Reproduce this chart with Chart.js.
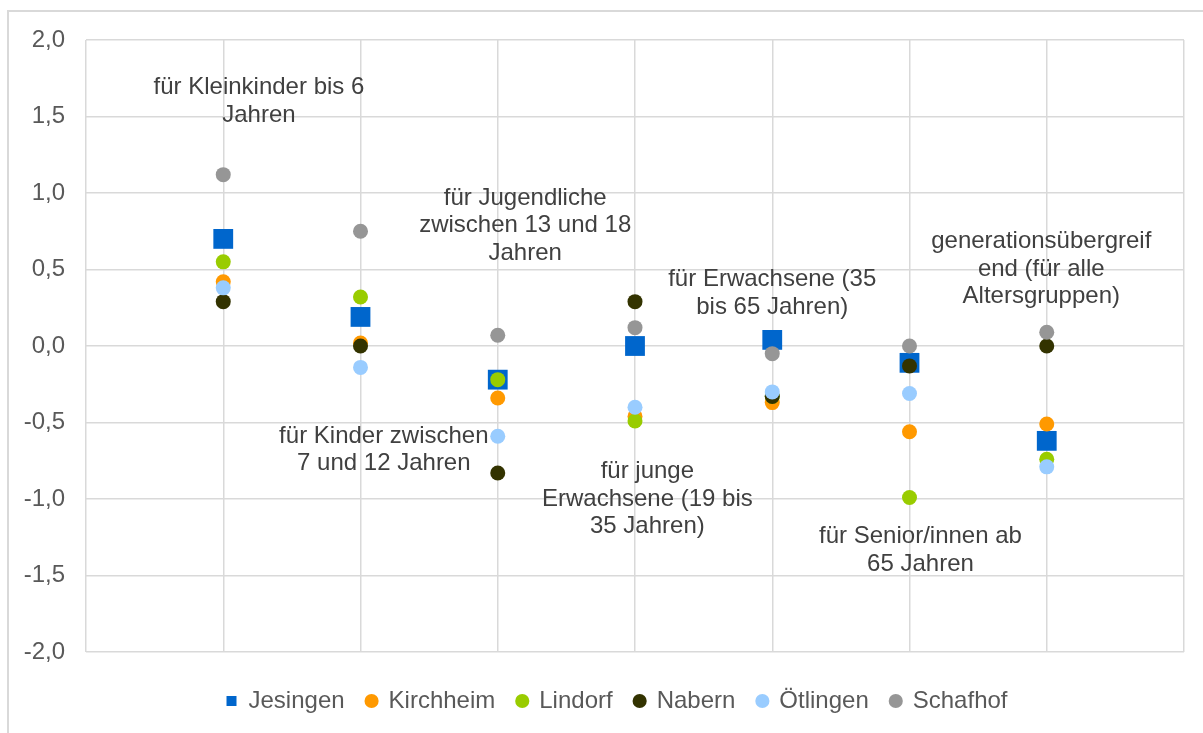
<!DOCTYPE html>
<html>
<head>
<meta charset="utf-8">
<script src="https://cdn.jsdelivr.net/npm/chart.js@4/dist/chart.umd.min.js"></script>
<style>
  html, body { margin: 0; padding: 0; background: #fff; overflow: hidden; }
  #frame { position: absolute; left: 7px; top: 10px; width: 1220px; height: 760px;
           border: 2px solid #d9d9d9; box-sizing: border-box; pointer-events: none; }
  #chart { position: absolute; left: 0; top: 0; }
</style>
</head>
<body>
<div id="frame"></div>
<canvas id="chart" width="1203" height="733"></canvas>
<script>
// category labels, wrapped the way the original shows them
const categories = [
  ['für Kleinkinder bis 6', 'Jahren'],
  ['für Kinder zwischen', '7 und 12 Jahren'],
  ['für Jugendliche', 'zwischen 13 und 18', 'Jahren'],
  ['für junge', 'Erwachsene (19 bis', '35 Jahren)'],
  ['für Erwachsene (35', 'bis 65 Jahren)'],
  ['für Senior/innen ab', '65 Jahren'],
  ['generationsübergreif', 'end (für alle', 'Altersgruppen)']
];

// series values, one per category
const jesingen  = [0.70, 0.19, -0.22, 0.00, 0.04, -0.11, -0.62];
const kirchheim = [0.42, 0.02, -0.34, -0.46, -0.37, -0.56, -0.51];
const lindorf   = [0.55, 0.32, -0.22, -0.49, -0.33, -0.99, -0.74];
const nabern    = [0.29, 0.00, -0.83, 0.29, -0.33, -0.13, 0.00];
const oetlingen = [0.38, -0.14, -0.59, -0.40, -0.30, -0.31, -0.79];
const schafhof  = [1.12, 0.75, 0.07, 0.12, -0.05, 0.00, 0.09];

const yTicks = [-2.0, -1.5, -1.0, -0.5, 0.0, 0.5, 1.0, 1.5, 2.0];

// where the category captions sit (x in category units, y in value units)
const captionX = [1.26, 2.17, 3.20, 4.09, 5.00, 6.08, 6.96];
const captionY = [1.60, -0.68, 0.786, -1.00, 0.344, -1.335, 0.504];

const FONT = '"Liberation Sans", Arial, sans-serif';

function series(label, values, color, style, radius, order) {
  return {
    label: label,
    data: values.map((v, i) => ({ x: i + 1, y: v })),
    backgroundColor: color,
    borderColor: color,
    borderWidth: 0,
    pointStyle: style,
    pointRadius: radius,
    showLine: false,
    order: order
  };
}

const captionPlugin = {
  id: 'captions',
  afterLayout(chart) {
    // legend sits a bit lower and further right than the default spot
    const lg = chart.legend;
    if (lg) {
      lg.left += 25; lg.right += 25;
      lg.top += 15; lg.bottom += 15;
    }
  },
  afterDatasetsDraw(chart) {
    const { ctx, scales } = chart;
    ctx.save();
    ctx.font = '24px ' + FONT;
    ctx.fillStyle = '#404040';
    ctx.textAlign = 'center';
    ctx.textBaseline = 'middle';
    const lh = 27.5;
    categories.forEach((lines, i) => {
      const cx = scales.x.getPixelForValue(captionX[i]);
      const cy = scales.y.getPixelForValue(captionY[i]);
      const top = cy - (lines.length - 1) * lh / 2;
      lines.forEach((t, j) => ctx.fillText(t, cx, top + j * lh));
    });
    ctx.restore();
  }
};

new Chart(document.getElementById('chart'), {
  type: 'scatter',
  data: {
    datasets: [
      series('Jesingen', jesingen, '#0066cc', 'rect', 14, 6),
      series('Kirchheim', kirchheim, '#ff9900', 'circle', 7.5, 5),
      series('Lindorf', lindorf, '#99cc00', 'circle', 7.5, 4),
      series('Nabern', nabern, '#333300', 'circle', 7.5, 3),
      series('Ötlingen', oetlingen, '#99ccff', 'circle', 7.5, 2),
      series('Schafhof', schafhof, '#969696', 'circle', 7.5, 1)
    ]
  },
  options: {
    responsive: false,
    animation: false,
    layout: { padding: { left: 0, top: 40, right: 19, bottom: 25 } },
    scales: {
      x: {
        type: 'linear',
        min: 0,
        max: 8,
        ticks: { display: false, stepSize: 1 },
        grid: { color: '#d9d9d9', lineWidth: 1.5, drawTicks: false },
        border: { display: false },
        afterFit: s => { s.height = 0; }
      },
      y: {
        min: -2,
        max: 2,
        afterBuildTicks: s => { s.ticks = yTicks.map(v => ({ value: v })); },
        ticks: {
          padding: 21,
          color: '#595959',
          font: { family: FONT, size: 24 },
          callback: v => v.toFixed(1).replace('.', ',')
        },
        grid: { color: '#d9d9d9', lineWidth: 1.5, drawTicks: false },
        border: { display: false },
        afterFit: s => { s.width = 86; }
      }
    },
    plugins: {
      tooltip: { enabled: false },
      legend: {
        position: 'bottom',
        labels: {
          usePointStyle: true,
          boxWidth: 10,
          boxHeight: 10,
          padding: 22,
          color: '#595959',
          font: { family: FONT, size: 24 },
          sort: (a, b) => a.datasetIndex - b.datasetIndex
        }
      }
    }
  },
  plugins: [captionPlugin]
});
</script>
</body>
</html>
